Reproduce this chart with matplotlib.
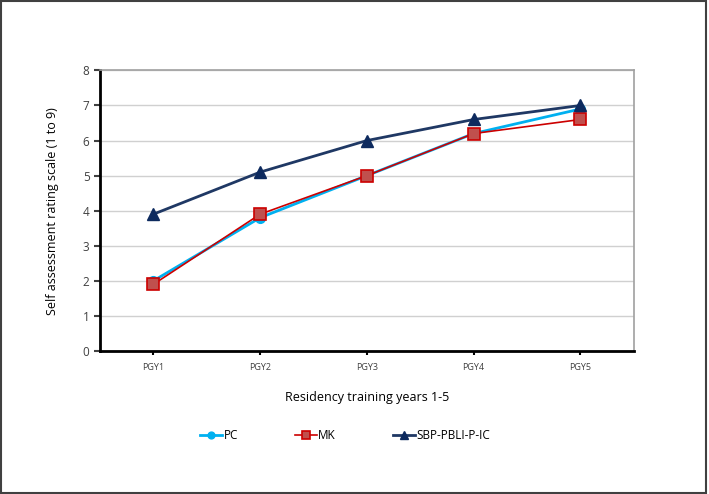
import matplotlib.pyplot as plt
import numpy as np
from matplotlib.patches import Rectangle

years = ['PGY1', 'PGY2', 'PGY3', 'PGY4', 'PGY5']
pc = [2.0, 3.8, 5.0, 6.2, 6.9]
mk = [1.9, 3.9, 5.0, 6.2, 6.6]
sbp = [3.9, 5.1, 6.0, 6.6, 7.0]

plt.rcParams['font.family'] = ['Open Sans', 'DejaVu Sans']

fig = plt.figure(figsize=(7.09, 4.94), dpi=100)
ax = fig.add_axes([0.141, 0.2895, 0.753, 0.568])

x = np.arange(len(years))
ax.plot(x, pc, color='#00b0f0', lw=2, marker='o', ms=7,
        mfc='#00b0f0', mec='#00b0f0', label='PC', zorder=3)
ax.plot(x, mk, color='#cc0000', lw=1.2, marker='s', ms=8,
        mfc='#c0504d', mec='#cc0000', mew=1.2, label='MK', zorder=4)
ax.plot(x, sbp, color='#1f3864', lw=2, marker='^', ms=8,
        mfc='#0d2a5e', mec='#0d2a5e', label='SBP-PBLI-P-IC', zorder=5)

ax.set_xlim(-0.5, 4.5)
ax.set_ylim(0, 8)
ax.set_yticks(range(0, 9))
ax.set_xticks(x)
ax.set_xticklabels(years, fontsize=6.5, color='#404040')
ax.tick_params(axis='y', labelsize=8.5, colors='#404040', length=4, width=1.5,
               direction='out')
ax.tick_params(axis='x', length=3, width=1.5, direction='out', pad=6)
ax.yaxis.grid(True, color='#d0d0d0', lw=1)
ax.set_axisbelow(True)

for s in ['left', 'bottom']:
    ax.spines[s].set_color('#000000')
    ax.spines[s].set_linewidth(2)
for s in ['top', 'right']:
    ax.spines[s].set_color('#a0a0a0')
    ax.spines[s].set_linewidth(1.2)

ax.set_ylabel('Self assessment rating scale (1 to 9)', fontsize=9, labelpad=17)
ax.set_xlabel('Residency training years 1-5', fontsize=9, labelpad=13)

leg = ax.legend(loc='center', bbox_to_anchor=(0.459, -0.30), ncol=3,
                frameon=False, fontsize=8.5, handlelength=1.9, handletextpad=0.1,
                columnspacing=4.8, markerscale=0.7)

fig.patches.append(Rectangle((0.002, 0.003), 0.994, 0.994, transform=fig.transFigure,
                             fill=False, ec='#404040', lw=1.5))

fig.savefig('out.png', dpi=100)
